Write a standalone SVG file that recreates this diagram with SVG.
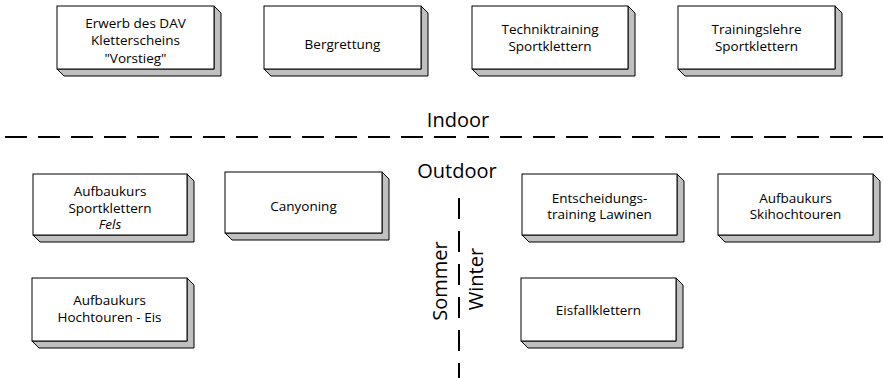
<svg xmlns="http://www.w3.org/2000/svg" width="883" height="378" viewBox="0 0 883 378">
<style>
.face{fill:#ffffff;stroke:#000000;stroke-width:1}
.side{fill:#c0c0c0;stroke:#000000;stroke-width:1;stroke-linejoin:miter}
.t{font-family:"Open Sans","Noto Sans","DejaVu Sans",sans-serif;font-size:13.5px;fill:#000;text-anchor:middle}
.big{font-family:"Open Sans","Noto Sans","DejaVu Sans",sans-serif;font-size:20px;fill:#000;text-anchor:middle}
.dash{stroke:#000;stroke-width:2;fill:none}
</style>
<rect width="883" height="378" fill="#ffffff"/>
<g id="connectors">
  <line class="dash" x1="5" y1="137" x2="883" y2="137" stroke-dasharray="22 11"/>
  <line class="dash" x1="459" y1="198" x2="459" y2="378" stroke-dasharray="21 12"/>
</g>
<g id="labels">
  <text class="big" x="458" y="127">Indoor</text>
  <text class="big" x="457" y="178">Outdoor</text>
  <text class="big" transform="translate(447,281) rotate(-90)">Sommer</text>
  <text class="big" transform="translate(483,279) rotate(-90)">Winter</text>
</g>
<g id="n1">
  <path class="side" d="M214,6 L221,13 L221,76 L64,76 L57,69 L214,69 Z"/>
  <rect class="face" x="57" y="6" width="157" height="63"/>
  <text class="t" x="135.5" y="27.5">Erwerb des DAV</text>
  <text class="t" x="135.5" y="45">Kletterscheins</text>
  <text class="t" x="135.5" y="62.5">"Vorstieg"</text>
</g>
<g id="n2">
  <path class="side" d="M421,6 L428,13 L428,76 L271,76 L264,69 L421,69 Z"/>
  <rect class="face" x="264" y="6" width="157" height="63"/>
  <text class="t" x="342.5" y="49">Bergrettung</text>
</g>
<g id="n3">
  <path class="side" d="M628,6 L635,13 L635,76 L479,76 L472,69 L628,69 Z"/>
  <rect class="face" x="472" y="6" width="156" height="63"/>
  <text class="t" x="550" y="33.5">Techniktraining</text>
  <text class="t" x="550" y="50.5">Sportklettern</text>
</g>
<g id="n4">
  <path class="side" d="M835,6 L842,13 L842,76 L685,76 L678,69 L835,69 Z"/>
  <rect class="face" x="678" y="6" width="157" height="63"/>
  <text class="t" x="756.5" y="33.5">Trainingslehre</text>
  <text class="t" x="756.5" y="50.5">Sportklettern</text>
</g>
<g id="n5">
  <path class="side" d="M187,174 L194,181 L194,242 L40,242 L33,235 L187,235 Z"/>
  <rect class="face" x="33" y="174" width="154" height="61"/>
  <text class="t" x="110" y="196">Aufbaukurs</text>
  <text class="t" x="110" y="212.5">Sportklettern</text>
  <text class="t" x="110" y="229" font-style="italic">Fels</text>
</g>
<g id="n6">
  <path class="side" d="M382,172 L389,179 L389,240 L232,240 L225,233 L382,233 Z"/>
  <rect class="face" x="225" y="172" width="157" height="61"/>
  <text class="t" x="303.5" y="211">Canyoning</text>
</g>
<g id="n7">
  <path class="side" d="M187,278 L194,285 L194,348 L39,348 L32,341 L187,341 Z"/>
  <rect class="face" x="32" y="278" width="155" height="63"/>
  <text class="t" x="109.5" y="305">Aufbaukurs</text>
  <text class="t" x="109.5" y="322">Hochtouren - Eis</text>
</g>
<g id="n8">
  <path class="side" d="M677,174 L684,181 L684,242 L529,242 L522,235 L677,235 Z"/>
  <rect class="face" x="522" y="174" width="155" height="61"/>
  <text class="t" x="599.5" y="202.5">Entscheidungs-</text>
  <text class="t" x="599.5" y="219">training Lawinen</text>
</g>
<g id="n9">
  <path class="side" d="M873,174 L880,181 L880,242 L725,242 L718,235 L873,235 Z"/>
  <rect class="face" x="718" y="174" width="155" height="61"/>
  <text class="t" x="795.5" y="202.5">Aufbaukurs</text>
  <text class="t" x="795.5" y="219">Skihochtouren</text>
</g>
<g id="n10">
  <path class="side" d="M676,278 L683,285 L683,348 L528,348 L521,341 L676,341 Z"/>
  <rect class="face" x="521" y="278" width="155" height="63"/>
  <text class="t" x="598.5" y="315">Eisfallklettern</text>
</g>
</svg>
